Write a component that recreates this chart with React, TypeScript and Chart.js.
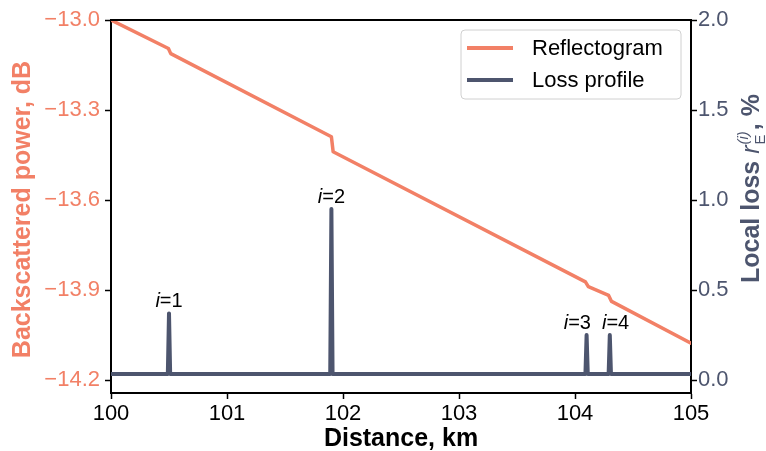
import { useEffect, useRef } from 'react';
import { Chart, registerables } from 'chart.js';

Chart.register(...registerables);

// ---- data ----
const reflectogramKm = [100, 100.495, 100.515, 101.9, 101.915, 104.09, 104.115, 104.29, 104.315, 105];
const reflectogramDb = [-13.0, -13.095, -13.112, -13.389, -13.439, -13.873, -13.889, -13.918, -13.938, -14.077];

const lossKm = [100, 100.49, 100.5, 100.51, 101.89, 101.9, 101.91, 104.09, 104.1, 104.11, 104.29, 104.3, 104.31, 105];
const lossPct = [0.033, 0.033, 0.37, 0.033, 0.033, 0.95, 0.033, 0.033, 0.25, 0.033, 0.033, 0.25, 0.033, 0.033];

const peakIndex = ['1', '2', '3', '4'];
const peakLabelKm = [100.5, 101.9, 104.02, 104.35];
const peakLabelPct = [0.37, 0.95, 0.25, 0.25];

const xTicks = [100, 101, 102, 103, 104, 105];
const leftTicks = [-13.0, -13.3, -13.6, -13.9, -14.2];
const rightTicks = [0.0, 0.5, 1.0, 1.5, 2.0];

const xTitle = 'Distance, km';
const leftTitle = 'Backscattered power, dB';
const seriesNames = ['Reflectogram', 'Loss profile'];

// ---- style ----
const SALMON = '#F28066';
const SLATE = '#4D556E';
const FONT = "'Liberation Sans', Arial, sans-serif";

const overlay = {
  id: 'overlay',
  afterDraw(chart: any) {
    const ctx = chart.ctx as CanvasRenderingContext2D;
    const { left, right, top, bottom } = chart.chartArea;
    const xs = chart.scales.x;
    const yR = chart.scales.yR;

    ctx.save();
    // top spine
    ctx.strokeStyle = '#000';
    ctx.lineWidth = 2;
    ctx.beginPath();
    ctx.moveTo(left - 1, top);
    ctx.lineTo(right + 1, top);
    ctx.stroke();

    // peak annotations
    ctx.fillStyle = '#000';
    ctx.textBaseline = 'alphabetic';
    ctx.textAlign = 'left';
    peakIndex.forEach((n, i) => {
      const px = xs.getPixelForValue(peakLabelKm[i]);
      const py = yR.getPixelForValue(peakLabelPct[i]) - 6;
      ctx.font = `italic 20px ${FONT}`;
      const wi = ctx.measureText('i').width;
      ctx.font = `20px ${FONT}`;
      const wr = ctx.measureText('=' + n).width;
      const x0 = px - (wi + wr) / 2;
      ctx.font = `italic 20px ${FONT}`;
      ctx.fillText('i', x0, py);
      ctx.font = `20px ${FONT}`;
      ctx.fillText('=' + n, x0 + wi, py);
    });

    // legend
    const bw = 220, bh = 69;
    const bx = right - 10 - bw, by = top + 10;
    ctx.beginPath();
    ctx.roundRect(bx, by, bw, bh, 4);
    ctx.fillStyle = 'rgba(255,255,255,0.8)';
    ctx.fill();
    ctx.strokeStyle = '#d0d0d0';
    ctx.lineWidth = 1;
    ctx.stroke();
    const colors = [SALMON, SLATE];
    seriesNames.forEach((name, i) => {
      const ly = by + 18 + i * 32;
      ctx.strokeStyle = colors[i];
      ctx.lineWidth = 4;
      ctx.beginPath();
      ctx.moveTo(bx + 6, ly);
      ctx.lineTo(bx + 52, ly);
      ctx.stroke();
      ctx.fillStyle = '#000';
      ctx.font = `22px ${FONT}`;
      ctx.textBaseline = 'middle';
      ctx.fillText(name, bx + 71, ly + 1);
    });

    // x title
    ctx.textBaseline = 'alphabetic';
    ctx.textAlign = 'center';
    ctx.fillStyle = '#000';
    ctx.font = `bold 25px ${FONT}`;
    ctx.fillText(xTitle, (left + right) / 2, 446);

    // left title
    ctx.save();
    ctx.translate(30, (top + bottom) / 2 + 3);
    ctx.rotate(-Math.PI / 2);
    ctx.fillStyle = SALMON;
    ctx.font = `bold 25px ${FONT}`;
    ctx.textAlign = 'center';
    ctx.fillText(leftTitle, 0, 0);
    ctx.restore();

    // right title with sub/superscript
    ctx.save();
    ctx.translate(759, 283);
    ctx.rotate(-Math.PI / 2);
    ctx.fillStyle = SLATE;
    ctx.textAlign = 'left';
    let cx = 0;
    ctx.font = `bold 25px ${FONT}`;
    ctx.fillText('Local loss ', cx, 0);
    cx += ctx.measureText('Local loss ').width;
    ctx.font = `italic 25px ${FONT}`;
    ctx.fillText('r', cx, 0);
    cx += ctx.measureText('r').width + 1;
    ctx.font = `15px ${FONT}`;
    ctx.fillText('E', cx, 6);
    const we = ctx.measureText('E').width;
    ctx.font = `italic 15px ${FONT}`;
    ctx.fillText('(i)', cx, -11);
    const ws = ctx.measureText('(i)').width;
    cx += Math.max(we, ws) + 1;
    ctx.font = `bold 25px ${FONT}`;
    ctx.fillText(', %', cx, 0);
    ctx.restore();

    ctx.restore();
  },
};

export default function App() {
  const ref = useRef<HTMLCanvasElement>(null);

  useEffect(() => {
    document.body.style.margin = '0';
    const canvas = ref.current!;
    const chart = new Chart(canvas, {
      type: 'line',
      data: {
        datasets: [
          {
            label: seriesNames[0],
            data: reflectogramKm.map((x, i) => ({ x, y: reflectogramDb[i] })),
            borderColor: SALMON,
            borderWidth: 3.5,
            yAxisID: 'yL',
            pointRadius: 0,
            borderCapStyle: 'round',
            borderJoinStyle: 'round',
            tension: 0,
          },
          {
            label: seriesNames[1],
            data: lossKm.map((x, i) => ({ x, y: lossPct[i] })),
            borderColor: SLATE,
            borderWidth: 4,
            yAxisID: 'yR',
            pointRadius: 0,
            borderCapStyle: 'round',
            borderJoinStyle: 'round',
            tension: 0,
          },
        ],
      },
      options: {
        animation: false,
        responsive: false,
        maintainAspectRatio: false,
        devicePixelRatio: 1,
        layout: { padding: { top: 20, left: 0, right: 0, bottom: 0 } },
        plugins: { legend: { display: false }, tooltip: { enabled: false } },
        scales: {
          x: {
            type: 'linear',
            position: 'bottom',
            min: 100,
            max: 105,
            afterBuildTicks: (s: any) => { s.ticks = xTicks.map((v) => ({ value: v })); },
            afterFit: (s: any) => { s.height = 58; },
            ticks: {
              color: '#000',
              font: { family: FONT, size: 22 },
              padding: 2,
              maxRotation: 0,
              autoSkip: false,
              callback: (v: any) => String(v),
            },
            grid: { drawOnChartArea: false, drawTicks: true, tickLength: 6, tickColor: '#000', tickWidth: 1.5 },
            border: { display: true, color: '#000', width: 2 },
          },
          yL: {
            type: 'linear',
            position: 'left',
            min: -14.2433,
            max: -13.0,
            afterBuildTicks: (s: any) => { s.ticks = leftTicks.map((v) => ({ value: v })); },
            afterFit: (s: any) => { s.width = 111; },
            ticks: {
              color: SALMON,
              font: { family: FONT, size: 22 },
              padding: 5,
              autoSkip: false,
              callback: (v: any) => Number(v).toFixed(1).replace('-', '\u2212'),
            },
            grid: { drawOnChartArea: false, drawTicks: true, tickLength: 6, tickColor: '#000', tickWidth: 1.5 },
            border: { display: true, color: '#000', width: 2 },
          },
          yR: {
            type: 'linear',
            position: 'right',
            min: -0.0722,
            max: 2.0,
            afterBuildTicks: (s: any) => { s.ticks = rightTicks.map((v) => ({ value: v })); },
            afterFit: (s: any) => { s.width = 75; },
            ticks: {
              color: SLATE,
              font: { family: FONT, size: 22 },
              padding: 1,
              autoSkip: false,
              callback: (v: any) => Number(v).toFixed(1),
            },
            grid: { drawOnChartArea: false, drawTicks: true, tickLength: 6, tickColor: '#000', tickWidth: 1.5 },
            border: { display: true, color: '#000', width: 2 },
          },
        },
      } as any,
      plugins: [overlay],
    });
    return () => chart.destroy();
  }, []);

  return (
    <div style={{ width: 766, height: 451 }}>
      <canvas ref={ref} width={766} height={451} style={{ display: 'block' }} />
    </div>
  );
}
